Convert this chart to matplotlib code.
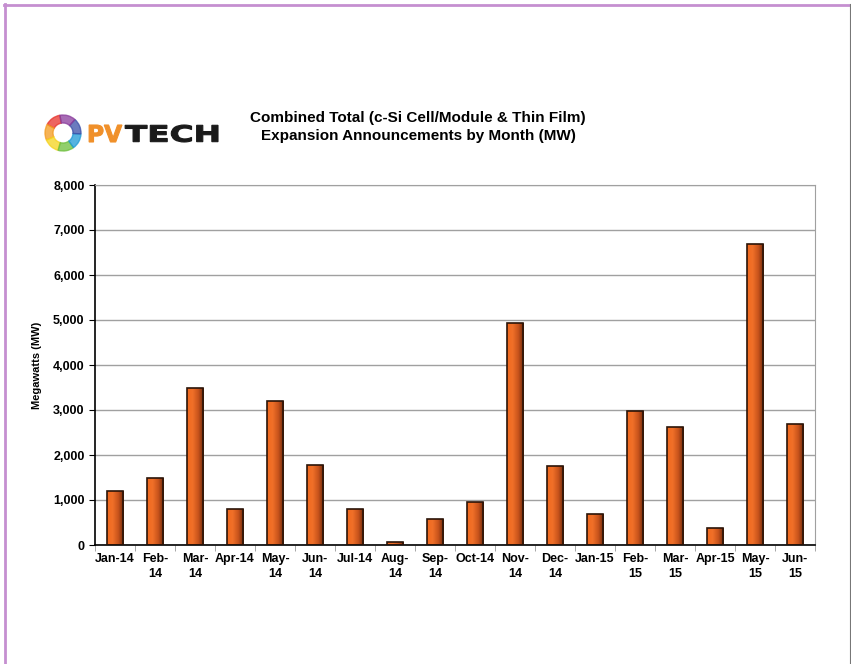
import numpy as np
import matplotlib

matplotlib.use("Agg")
import matplotlib.pyplot as plt
from matplotlib.colors import LinearSegmentedColormap
from matplotlib.patches import Wedge, PathPatch
from matplotlib.lines import Line2D
from matplotlib.textpath import TextPath
from matplotlib.font_manager import FontProperties
from matplotlib.transforms import Affine2D

plt.rcParams["font.family"] = ["Liberation Sans", "DejaVu Sans"]

months = ["Jan-14", "Feb-\n14", "Mar-\n14", "Apr-14", "May-\n14", "Jun-\n14",
          "Jul-14", "Aug-\n14", "Sep-\n14", "Oct-14", "Nov-\n14", "Dec-\n14",
          "Jan-15", "Feb-\n15", "Mar-\n15", "Apr-15", "May-\n15", "Jun-\n15"]
megawatts = [1200, 1500, 3480, 800, 3200, 1770,
             800, 60, 570, 950, 4930, 1760,
             700, 2970, 2615, 370, 6700, 2700]
yticks = [0, 1000, 2000, 3000, 4000, 5000, 6000, 7000, 8000]

W, H = 851, 664
fig = plt.figure(figsize=(W / 100, H / 100), dpi=100)
fig.patch.set_facecolor("white")

# page frame
fig.add_artist(Line2D([4.5 / W, 4.5 / W], [0, 1 - 4 / H], color="#c58fd0", lw=2))
fig.add_artist(Line2D([4 / W, 1], [1 - 4.5 / H, 1 - 4.5 / H], color="#c58fd0", lw=2))
fig.add_artist(Line2D([849.5 / W, 849.5 / W], [0, 1 - 4 / H], color="#777777", lw=0.8))

ax = fig.add_axes([95 / W, 1 - 545 / H, 720 / W, 360 / H])
x = np.arange(len(months))
bars = ax.bar(x, megawatts, width=0.42, color="none", edgecolor="#2b1408",
              linewidth=1.2, zorder=3)

# horizontal gradient fill, bright orange to dark brown
cmap = LinearSegmentedColormap.from_list("pv", ["#f26a20", "#f07028", "#c8531c", "#6e2a0c"])
grad = np.linspace(0, 1, 64).reshape(1, -1)
for b in bars:
    x0, y0 = b.get_x(), b.get_y()
    im = ax.imshow(grad, cmap=cmap, aspect="auto", zorder=2,
                   extent=[x0, x0 + b.get_width(), y0, y0 + b.get_height()])
    im.set_clip_path(b)

ax.set_xlim(-0.5, len(months) - 0.5)
ax.set_ylim(0, 8000)
ax.set_yticks(yticks)
ax.yaxis.set_major_formatter(lambda v, _: f"{v:,.0f}")
ax.set_xticks(x)
ax.set_xticklabels(months, fontsize=9, fontweight="bold", linespacing=1.3)
ax.set_xticks(np.arange(-0.5, len(months), 1), minor=True)
ax.tick_params(axis="x", which="major", length=0, pad=6)
ax.tick_params(axis="x", which="minor", length=4, color="#999999", direction="out")
ax.tick_params(axis="y", labelsize=9, length=4, direction="out")
for lab in ax.get_yticklabels():
    lab.set_fontweight("bold")
ax.set_ylabel("Megawatts (MW)", fontsize=8, fontweight="bold", labelpad=8)
ax.grid(axis="y", color="#a0a0a0", linewidth=1, zorder=0)
ax.set_axisbelow(True)
ax.spines["left"].set_color("black")
ax.spines["bottom"].set_color("black")
ax.spines["left"].set_linewidth(1.2)
ax.spines["bottom"].set_linewidth(1.2)
ax.spines["top"].set_color("#a0a0a0")
ax.spines["right"].set_color("#a0a0a0")

fig.text(418 / W, 1 - 118 / H, "Combined Total (c-Si Cell/Module & Thin Film)",
         ha="center", va="center", fontsize=11, fontweight="bold")
fig.text(418 / W, 1 - 136 / H, "Expansion Announcements by Month (MW)",
         ha="center", va="center", fontsize=11, fontweight="bold")

# PV Tech logo, axes in pixel units (y measured up from logo bottom)
lx0, ly0, lw, lh = 38, 104, 185, 60
lax = fig.add_axes([lx0 / W, 1 - (ly0 + lh) / H, lw / W, lh / H])
lax.set_xlim(0, lw)
lax.set_ylim(0, lh)
lax.axis("off")
ring_colors = ["#e8322a", "#f39a1e", "#f5d31c", "#6cbf3b", "#1e9ad6", "#3a4fa8", "#8a3b9c"]
for i, c in enumerate(ring_colors):
    lax.add_patch(Wedge((25, 31), 18, 100 + i * 360 / 7, 100 + (i + 1) * 360 / 7,
                        width=8, color=c, alpha=0.75))


def logo_word(text, left, right, color):
    tp = TextPath((0, 0), text, size=20,
                  prop=FontProperties(family="DejaVu Sans", weight="bold"))
    v = tp.vertices
    bx0, bx1 = v[:, 0].min(), v[:, 0].max()
    by0, by1 = v[:, 1].min(), v[:, 1].max()
    # glyph box: bottom 22, top 39 px above logo bottom
    t = (Affine2D().translate(-bx0, -by0)
         .scale((right - left) / (bx1 - bx0), 17 / (by1 - by0))
         .translate(left, 22))
    lax.add_patch(PathPatch(t.transform_path(tp), facecolor=color,
                            edgecolor=color, lw=0.8))


logo_word("PV", 49, 84, "#f0902a")
logo_word("TECH", 87, 180, "#1a1a1a")

fig.savefig("out.png", dpi=100)
